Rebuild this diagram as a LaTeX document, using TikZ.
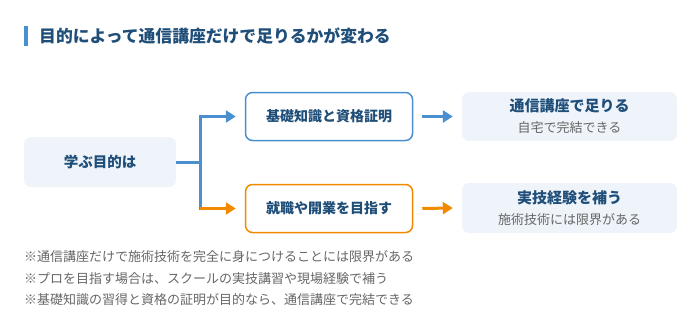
\documentclass[tikz,border=0pt]{standalone}
\usepackage{fontspec}
\setmainfont{Noto Sans CJK JP}
\usetikzlibrary{arrows.meta}
\definecolor{navy}{HTML}{1F4E79}
\definecolor{bluel}{HTML}{4A90D0}
\definecolor{orng}{HTML}{F28A00}
\definecolor{pale}{HTML}{EEF4FA}
\definecolor{grayt}{HTML}{666666}
\tikzset{
  x=1pt,y=-1pt,
  softbox/.style={fill=pale, rounded corners=7pt, inner sep=0pt},
  midbox/.style={fill=white, line width=1.5pt, rounded corners=7pt, minimum width=167pt, minimum height=48pt, inner sep=0pt, font=\fontsize{14}{16}\selectfont\bfseries, text=navy},
  conn/.style={line width=3pt},
  arr/.style={conn, -{Triangle[length=10pt,width=12pt]}},
  note/.style={anchor=west, font=\fontsize{13}{15}\selectfont, text=grayt, inner sep=0pt},
}
\begin{document}
\begin{tikzpicture}
\useasboundingbox (0,0) rectangle (700,316);
% title
\fill[bluel] (24,26) rectangle (27.5,46);
\node[anchor=west, inner sep=0pt, font=\fontsize{16.8}{18}\selectfont\bfseries, text=navy] (title) at (39,36) {目的によって通信講座だけで足りるかが変わる};
% left
\node[softbox, minimum width=152pt, minimum height=50pt, font=\fontsize{14.5}{16}\selectfont\bfseries, text=navy] (start) at (100,162) {学ぶ目的は};
% middle
\node[midbox, draw=bluel] (basic) at (329,116.5) {基礎知識と資格証明};
\node[midbox, draw=orng] (pro) at (329,208.5) {就職や開業を目指す};
% right
\node[softbox, minimum width=215pt, minimum height=49pt] (r1) at (569.5,116.5) {};
\node[font=\fontsize{15}{17}\selectfont\bfseries, text=navy, inner sep=0pt] (r1t) at (569.5,106) {通信講座で足りる};
\node[font=\fontsize{13}{15}\selectfont, text=grayt, inner sep=0pt] (r1s) at (569.5,128) {自宅で完結できる};
\node[softbox, minimum width=215pt, minimum height=50pt] (r2) at (569.5,208) {};
\node[font=\fontsize{15}{17}\selectfont\bfseries, text=navy, inner sep=0pt] (r2t) at (569.5,197.5) {実技経験を補う};
\node[font=\fontsize{13}{15}\selectfont, text=grayt, inner sep=0pt] (r2s) at (569.5,220) {施術技術には限界がある};
% connectors
\coordinate (j) at (200,162);
\coordinate (jt) at (200,116.5);
\coordinate (jb) at (200,208.5);
\draw[conn, bluel] (start.east) -- (j);
\draw[conn, bluel, line cap=rect] (jt) -- (jb);
\draw[arr, bluel] (jt) -- ([xshift=-9pt]basic.west);
\draw[arr, orng] (jb) -- ([xshift=-9pt]pro.west);
\draw[arr, bluel] ([xshift=9pt]basic.east) -- ([xshift=-9pt]r1.west);
\draw[arr, orng] ([xshift=9pt]pro.east) -- ([xshift=-9pt]r2.west);
% notes
\node[note] (n1) at (24,257) {※通信講座だけで施術技術を完全に身につけることには限界がある};
\node[note] (n2) at (24,278.5) {※プロを目指す場合は、スクールの実技講習や現場経験で補う};
\node[note] (n3) at (24,300) {※基礎知識の習得と資格の証明が目的なら、通信講座で完結できる};
\end{tikzpicture}
\end{document}
